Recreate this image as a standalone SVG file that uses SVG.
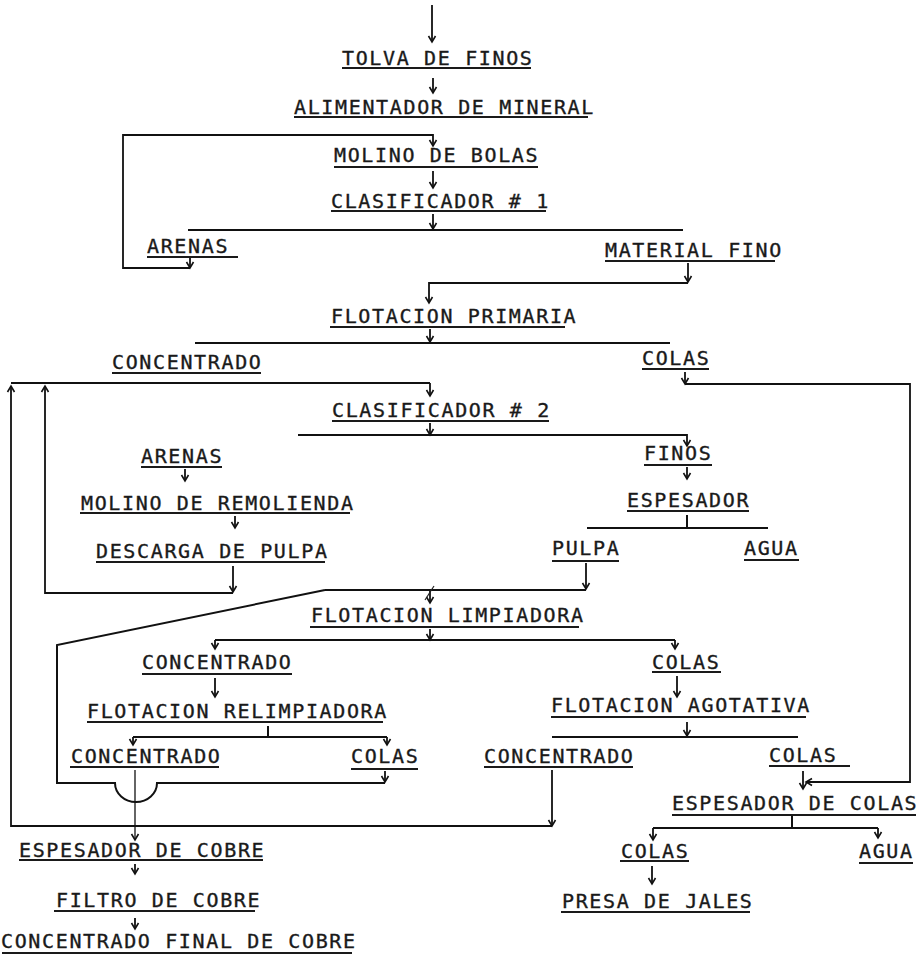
<svg xmlns="http://www.w3.org/2000/svg" width="922" height="956" viewBox="0 0 922 956">
<style>
text{font-family:"DejaVu Sans Mono","Liberation Mono",monospace;font-size:20px;letter-spacing:1.64px;fill:#1a1a1a;stroke:#1a1a1a;stroke-width:0.35px}
.u{stroke:#1a1a1a;stroke-width:2;fill:none}
.c{stroke:#111;stroke-width:2;fill:none}
.a{stroke:#111;stroke-width:1.8;fill:none;marker-end:url(#ah)}
.t{stroke:#222;stroke-width:1.2;fill:none}
</style>
<defs>
<marker id="ah" markerWidth="10" markerHeight="10" viewBox="-8 -5 10 10" refX="0" refY="0" orient="auto" markerUnits="userSpaceOnUse">
<path d="M-6,-3.5 L0,0 L-6,3.5" fill="none" stroke="#111" stroke-width="1.6"/>
</marker>
</defs>
<rect width="922" height="956" fill="#fff"/>
<g id="connectors">
<path class="a" d="M432,5 V42"/>
<path class="a" d="M433,78 V93"/>
<path class="a" d="M190,258 V268"/>
<path class="a" d="M190,268 H123 V135 H433 V146"/>
<path class="a" d="M433,171 V188"/>
<path class="a" d="M433,214 V229"/>
<path class="c" d="M188,230 H683"/>
<path class="a" d="M688,263 V282"/>
<path class="a" d="M688,283 H429 V303"/>
<path class="a" d="M430,329 V342"/>
<path class="c" d="M195,343 H670"/>
<path class="a" d="M685,372 V384"/>
<path class="a" d="M685,384 H910 V782 H806"/>
<path class="c" d="M11,383 H430"/>
<path class="a" d="M430,383 V396"/>
<path class="a" d="M552,770 V826"/>
<path class="a" d="M552,826 H11 V386"/>
<path class="a" d="M233,566 V592"/>
<path class="a" d="M233,593 H45 V386"/>
<path class="a" d="M185,469 V481"/>
<path class="a" d="M235,516 V528"/>
<path class="a" d="M430,423 V435"/>
<path class="a" d="M298,435 H687 V446"/>
<path class="a" d="M687,467 V479"/>
<path class="c" d="M687,515 V528"/>
<path class="c" d="M587,528 H768"/>
<path class="a" d="M586,563 V589"/>
<path class="c" d="M586,590 H325"/>
<path class="a" d="M385,771 V782"/>
<path class="c" d="M385,783 H157 A21,19 0 0 1 115,783 H57 V645 L325,590"/>
<path class="a" d="M430,590 V603"/>
<path class="t" d="M425,600 L434,586"/>
<path class="a" d="M430,629 V640"/>
<path class="c" d="M215,640 H675"/>
<path class="a" d="M215,640 V649"/>
<path class="a" d="M675,640 V649"/>
<path class="a" d="M215,678 V697"/>
<path class="a" d="M677,676 V697"/>
<path class="c" d="M268,726 V737"/>
<path class="c" d="M133,737 H387"/>
<path class="a" d="M133,737 V745"/>
<path class="a" d="M387,737 V745"/>
<path class="a" d="M687,722 V736"/>
<path class="c" d="M552,737 H798"/>
<path class="a" style="stroke-width:1.3" d="M135,770 V840"/>
<path class="a" d="M803,771 V789"/>
<path class="a" d="M135,864 V874"/>
<path class="a" d="M135,918 V929"/>
<path class="c" d="M792,816 V828"/>
<path class="c" d="M653,828 H878"/>
<path class="a" d="M653,828 V840"/>
<path class="a" d="M878,828 V838"/>
<path class="a" d="M652,866 V884"/>
</g>
<g id="tolva"><text x="342" y="65">TOLVA DE FINOS</text><line class="u" x1="342" y1="68" x2="531" y2="68"/></g>
<g id="alimentador"><text x="294" y="114">ALIMENTADOR DE MINERAL</text><line class="u" x1="294" y1="117" x2="588" y2="117"/></g>
<g id="molino-bolas"><text x="334" y="162">MOLINO DE BOLAS</text><line class="u" x1="334" y1="167" x2="538" y2="167"/></g>
<g id="clasificador1"><text x="331" y="208">CLASIFICADOR # 1</text><line class="u" x1="331" y1="211" x2="546" y2="211"/></g>
<g id="arenas1"><text x="147" y="253">ARENAS</text><line class="u" x1="147" y1="257" x2="238" y2="257"/></g>
<g id="material-fino"><text x="605" y="257">MATERIAL FINO</text><line class="u" x1="605" y1="261" x2="775" y2="261"/></g>
<g id="flotacion-primaria"><text x="331" y="323">FLOTACION PRIMARIA</text><line class="u" x1="330" y1="327" x2="565" y2="327"/></g>
<g id="concentrado1"><text x="112" y="369">CONCENTRADO</text><line class="u" x1="112" y1="373" x2="261" y2="373"/></g>
<g id="colas1"><text x="642" y="365">COLAS</text><line class="u" x1="642" y1="369" x2="709" y2="369"/></g>
<g id="clasificador2"><text x="332" y="417">CLASIFICADOR # 2</text><line class="u" x1="332" y1="421" x2="549" y2="421"/></g>
<g id="arenas2"><text x="141" y="463">ARENAS</text><line class="u" x1="141" y1="467" x2="222" y2="467"/></g>
<g id="finos"><text x="644" y="460">FINOS</text><line class="u" x1="644" y1="465" x2="712" y2="465"/></g>
<g id="molino-remolienda"><text x="81" y="510">MOLINO DE REMOLIENDA</text><line class="u" x1="80" y1="513" x2="350" y2="513"/></g>
<g id="espesador"><text x="627" y="507">ESPESADOR</text><line class="u" x1="627" y1="511" x2="749" y2="511"/></g>
<g id="descarga"><text x="96" y="558">DESCARGA DE PULPA</text><line class="u" x1="96" y1="562" x2="325" y2="562"/></g>
<g id="pulpa"><text x="552" y="555">PULPA</text><line class="u" x1="552" y1="561" x2="619" y2="561"/></g>
<g id="agua1"><text x="744" y="555">AGUA</text><line class="u" x1="744" y1="560" x2="799" y2="560"/></g>
<g id="flotacion-limpiadora"><text x="311" y="622">FLOTACION LIMPIADORA</text><line class="u" x1="310" y1="627" x2="579" y2="627"/></g>
<g id="concentrado2"><text x="142" y="669">CONCENTRADO</text><line class="u" x1="142" y1="674" x2="292" y2="674"/></g>
<g id="colas2"><text x="652" y="669">COLAS</text><line class="u" x1="652" y1="672" x2="721" y2="672"/></g>
<g id="flotacion-relimpiadora"><text x="87" y="718">FLOTACION RELIMPIADORA</text><line class="u" x1="87" y1="722" x2="383" y2="722"/></g>
<g id="flotacion-agotativa"><text x="551" y="712">FLOTACION AGOTATIVA</text><line class="u" x1="551" y1="717" x2="806" y2="717"/></g>
<g id="concentrado3"><text x="71" y="763">CONCENTRADO</text><line class="u" x1="70" y1="767" x2="219" y2="767"/></g>
<g id="colas3"><text x="351" y="763">COLAS</text><line class="u" x1="351" y1="769" x2="418" y2="769"/></g>
<g id="concentrado4"><text x="484" y="763">CONCENTRADO</text><line class="u" x1="484" y1="767" x2="633" y2="767"/></g>
<g id="colas4"><text x="769" y="762">COLAS</text><line class="u" x1="769" y1="766" x2="850" y2="766"/></g>
<g id="espesador-colas"><text x="672" y="810">ESPESADOR DE COLAS</text><line class="u" x1="672" y1="815" x2="916" y2="815"/></g>
<g id="espesador-cobre"><text x="19" y="857">ESPESADOR DE COBRE</text><line class="u" x1="19" y1="860" x2="263" y2="860"/></g>
<g id="colas5"><text x="621" y="858">COLAS</text><line class="u" x1="620" y1="861" x2="689" y2="861"/></g>
<g id="agua2"><text x="859" y="858">AGUA</text><line class="u" x1="859" y1="863" x2="913" y2="863"/></g>
<g id="filtro-cobre"><text x="56" y="907">FILTRO DE COBRE</text><line class="u" x1="54" y1="911" x2="255" y2="911"/></g>
<g id="presa-jales"><text x="562" y="908">PRESA DE JALES</text><line class="u" x1="561" y1="912" x2="750" y2="912"/></g>
<g id="concentrado-final"><text x="1" y="948">CONCENTRADO FINAL DE COBRE</text><line class="u" x1="2" y1="953" x2="352" y2="953"/></g>
</svg>
